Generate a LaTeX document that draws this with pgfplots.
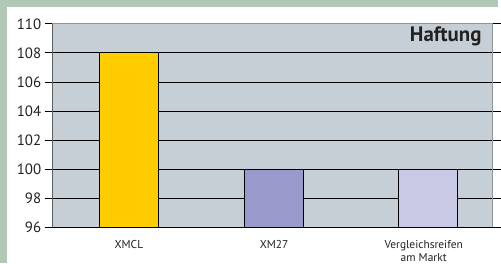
\documentclass[border=0pt]{standalone}
\usepackage{pgfplots}
\pgfplotsset{compat=1.18}
\usepackage{fontspec}
\setmainfont{PT Sans}
\definecolor{framegreen}{HTML}{B2C8B6}
\definecolor{plotbg}{HTML}{C7CFD6}
\definecolor{borderg}{HTML}{8C949C}
\definecolor{cA}{HTML}{FFCC00}
\definecolor{cB}{HTML}{9999CC}
\definecolor{cC}{HTML}{C9C9E6}
\definecolor{txt}{HTML}{222222}
\begin{document}
\begin{tikzpicture}[x=1pt,y=1pt]
\fill[framegreen] (0,0) rectangle (501,265);
\fill[white] (7,0) rectangle (501,258);
\begin{axis}[
  at={(53pt,36pt)}, anchor=south west,
  scale only axis, width=443pt, height=205pt,
  xmin=0, xmax=3, ymin=96, ymax=110,
  ytick={96,98,...,110},
  xtick=\empty,
  extra x ticks={0.52,1.51,2.53},
  extra x tick labels={XMCL,XM27,{Vergleichsreifen\\am Markt}},
  extra x tick style={major tick length=0pt, grid=none},
  xticklabel style={font=\fontsize{11.5}{13}\selectfont, color=txt, align=center, yshift=-12pt, anchor=north, inner sep=1pt},
  yticklabel style={font=\fontsize{15}{15}\selectfont, color=txt},
  /pgf/number format/assume math mode=true,
  ymajorgrids, grid style={black, line width=0.9pt},
  tick align=outside, major tick length=8pt,
  tick style={black, line width=0.9pt},
  axis line style={draw=borderg, line width=0.9pt},
  axis background/.style={fill=plotbg},
  clip=true,
]
\addplot[ybar, bar width=59pt, bar shift=0pt, fill=cA, draw=black, line width=0.9pt] coordinates {(0.52,108)};
\addplot[ybar, bar width=59pt, bar shift=0pt, fill=cB, draw=black, line width=0.9pt] coordinates {(1.51,100)};
\addplot[ybar, bar width=59pt, bar shift=0pt, fill=cC, draw=black, line width=0.9pt] coordinates {(2.56,100)};
\draw[black, line width=0.9pt] (rel axis cs:0,1) -- (rel axis cs:0,0) -- (rel axis cs:1,0);
\draw[black, line width=0.9pt] (axis cs:0,96) -- ++(0,-4pt);
\draw[black, line width=0.9pt] (axis cs:1,96) -- ++(0,-4pt);
\draw[black, line width=0.9pt] (axis cs:2,96) -- ++(0,-4pt);
\draw[black, line width=0.9pt] (axis cs:3,96) -- ++(0,-4pt);
\node[anchor=north east, font=\bfseries\fontsize{21}{21}\selectfont, color=txt, inner sep=0pt] at ([xshift=-11pt,yshift=-3pt]rel axis cs:1,1) {Haftung};
\end{axis}
\end{tikzpicture}
\end{document}
